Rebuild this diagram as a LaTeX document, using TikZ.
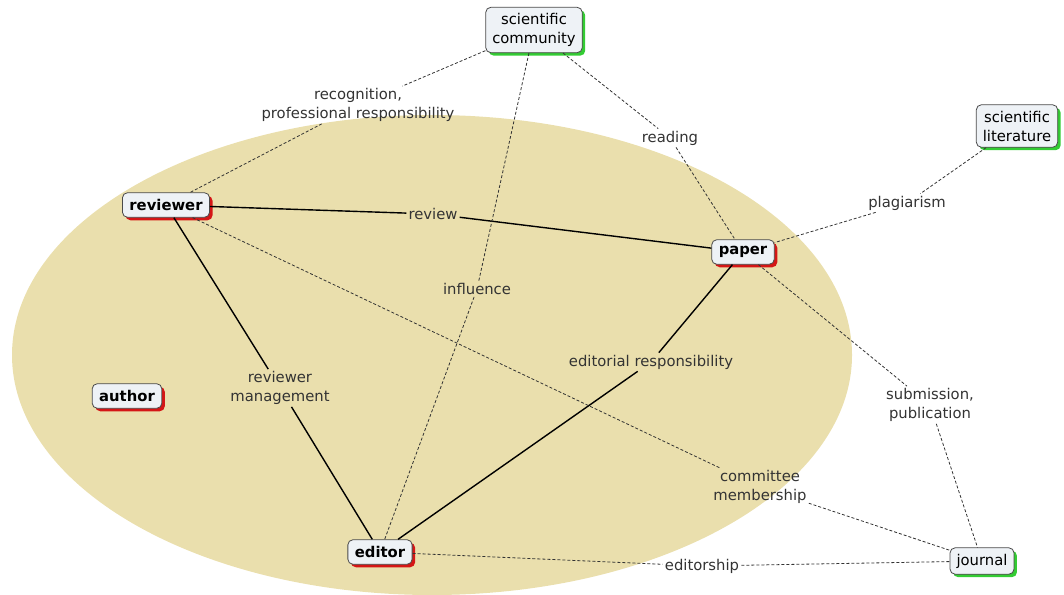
\documentclass[tikz,border=0pt]{standalone}
\usepackage{fontspec}
\setmainfont{DejaVu Sans}
\usetikzlibrary{shadows}
\definecolor{bgarea}{HTML}{EADFAD}
\definecolor{boxfill}{HTML}{EEF2F6}
\definecolor{boxline}{HTML}{4A4A4A}
\definecolor{txt}{HTML}{333333}
\definecolor{redsh}{HTML}{D41616}
\definecolor{greensh}{HTML}{33CC33}
\newcommand{\cmapfont}{\fontsize{14.8}{19}\selectfont}
\tikzset{
  concept/.style={draw=boxline, line width=0.8pt, fill=boxfill, rounded corners=5pt,
    inner xsep=6.5pt, inner ysep=6pt, minimum height=24.5pt,
    align=center, text=black, font=\cmapfont},
  inner/.style={concept, inner xsep=7pt, font=\cmapfont\bfseries,
    drop shadow={shadow xshift=3pt, shadow yshift=-3pt, fill=redsh, opacity=1}},
  outer/.style={concept,
    drop shadow={shadow xshift=3pt, shadow yshift=-3pt, fill=greensh, opacity=1}},
  lab/.style={align=center, text=txt, inner sep=2pt, font=\cmapfont},
  strong/.style={line width=1.4pt, black},
  weak/.style={line width=0.8pt, black!80, dash pattern=on 3pt off 2pt},
}
\begin{document}
\begin{tikzpicture}[x=1pt, y=-1pt]
\useasboundingbox (0,0) rectangle (1064,594);
% shaded area around the review process
\begin{scope}
  \clip (0,0) rectangle (1064,594);
  \fill[bgarea] (432,355) ellipse [x radius=420, y radius=240];
\end{scope}

% concepts
\node[outer] (comm) at (534,30) {scientific\\community};
\node[outer] (lit) at (1017,126) {scientific\\literature};
\node[inner] (rev) at (166,205) {reviewer};
\node[inner] (pap) at (743,252) {paper};
\node[inner] (aut) at (127,396) {author};
\node[inner] (edi) at (380,552) {editor};
\node[outer] (jou) at (982,561) {journal};

% link labels
\node[lab] (lrec) at (358,105) {recognition,\\professional responsibility};
\node[lab] (lreview) at (433,214) {review};
\node[lab] (linf) at (477,289) {influence};
\node[lab] (lread) at (670,138) {reading};
\node[lab] (lplag) at (907,203) {plagiarism};
\node[lab] (lman) at (280,388) {reviewer\\management};
\node[lab] (ledr) at (651,362) {editorial responsibility};
\node[lab] (lsub) at (930,405) {submission,\\publication};
\node[lab] (lcom) at (760,487) {committee\\membership};
\node[lab] (ledship) at (702,566) {editorship};

% links
\draw[strong] (rev) -- (lreview) -- (pap);
\draw[strong] (rev) -- (lman) -- (edi);
\draw[strong] (pap) -- (ledr) -- (edi);
\draw[weak] (comm) -- (lrec) -- (rev);
\draw[weak] (comm) -- (linf) -- (edi);
\draw[weak] (comm) -- (lread) -- (pap);
\draw[weak] (lit) -- (lplag) -- (pap);
\draw[weak] (pap) -- (lsub) -- (jou);
\draw[weak] (rev) -- (lcom) -- (jou);
\draw[weak] (edi) -- (ledship) -- (jou);
\end{tikzpicture}
\end{document}
